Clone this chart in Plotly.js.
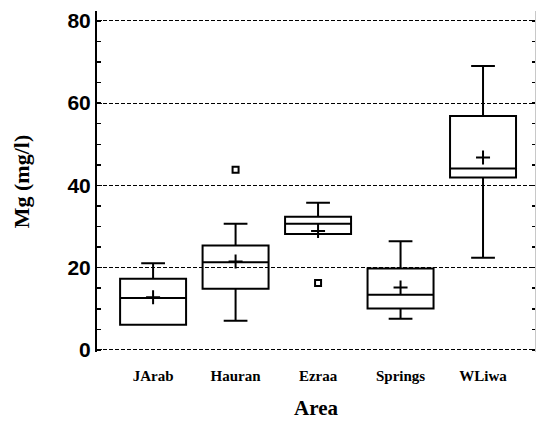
<!DOCTYPE html>
<html>
<head>
<meta charset="utf-8">
<script src="https://cdn.plot.ly/plotly-3.0.1.min.js"></script>
<style>html,body{margin:0;padding:0;background:#fff;}#chart{width:536px;height:426px;}</style>
</head>
<body>
<div id="chart"></div>
<script>
// Data
const areas = ["JArab", "Hauran", "Ezraa", "Springs", "WLiwa"];
const lowerWhisker = [6.1, 7.1, 28.2, 7.6, 22.4];
const q1 = [6.1, 14.9, 28.2, 10.1, 41.9];
const median = [12.6, 21.3, 30.7, 13.4, 44.1];
const q3 = [17.3, 25.4, 32.4, 19.8, 56.9];
const upperWhisker = [21.1, 30.7, 35.8, 26.4, 69.0];
const means = [12.8, 21.5, 28.9, 15.2, 46.8];
const outlierAreas = ["Hauran", "Ezraa"];
const outlierValues = [43.8, 16.3];
const yTicks = [0, 20, 40, 60, 80];

const serif = "Liberation Serif, Times New Roman, serif";
const sans = "Liberation Sans, Arial, sans-serif";

const traces = [
  {
    type: "box",
    x: areas,
    q1: q1,
    median: median,
    q3: q3,
    lowerfence: lowerWhisker,
    upperfence: upperWhisker,
    boxpoints: false,
    width: 0.8,
    whiskerwidth: 0.36,
    fillcolor: "rgba(255,255,255,0)",
    line: {color: "#000", width: 2},
    hoverinfo: "skip",
    showlegend: false
  },
  {
    type: "scatter",
    mode: "markers",
    x: areas,
    y: means,
    marker: {symbol: "cross-thin-open", size: 10, color: "#000", line: {color: "#000", width: 2}},
    showlegend: false,
    hoverinfo: "skip"
  },
  {
    type: "scatter",
    mode: "markers",
    x: outlierAreas,
    y: outlierValues,
    marker: {symbol: "square-open", size: 6, color: "#000", line: {color: "#000", width: 2}},
    showlegend: false,
    hoverinfo: "skip"
  },
  {
    // carrier for the right-hand tick axis (draws nothing)
    type: "scatter",
    mode: "markers",
    x: [areas[0]],
    y: [null],
    yaxis: "y2",
    showlegend: false,
    hoverinfo: "skip"
  }
];

const layout = {
  width: 536,
  height: 426,
  margin: {l: 97, r: 1, t: 11, b: 74},
  paper_bgcolor: "#fff",
  plot_bgcolor: "#fff",
  showlegend: false,
  xaxis: {
    type: "category",
    categoryorder: "array",
    categoryarray: areas,
    range: [-0.68, 4.63],
    showgrid: false,
    zeroline: false,
    showline: false,
    ticks: "",
    ticklabelstandoff: 13,
    tickfont: {family: serif, size: 15, color: "#000", weight: "bold"},
    title: {text: "Area", font: {family: serif, size: 21, color: "#000", weight: "bold"}, standoff: 17}
  },
  yaxis: {
    range: [-0.5, 82.4],
    tickvals: yTicks,
    ticktext: yTicks.map(String),
    showgrid: true,
    gridcolor: "#000",
    gridwidth: 1,
    griddash: "4px,2px",
    zeroline: false,
    showline: true,
    linecolor: "#000",
    linewidth: 2,
    ticks: "inside",
    ticklen: 5,
    tickwidth: 1,
    tickcolor: "#000",
    minor: {dtick: 5, ticks: "inside", ticklen: 4, tickwidth: 1.5, tickcolor: "#000", showgrid: false},
    tickfont: {family: sans, size: 21, color: "#000", weight: "bold"},
    title: {text: "Mg (mg/l)", font: {family: serif, size: 22, color: "#000", weight: "bold"}, standoff: 32}
  },
  yaxis2: {
    overlaying: "y",
    side: "right",
    range: [-0.5, 82.4],
    tickvals: yTicks,
    showticklabels: false,
    showgrid: false,
    zeroline: false,
    showline: true,
    linecolor: "#c8c8c8",
    linewidth: 1,
    ticks: "inside",
    ticklen: 3,
    tickcolor: "#000",
    minor: {dtick: 5, ticks: "inside", ticklen: 3, tickwidth: 1.5, tickcolor: "#000", showgrid: false}
  }
};

Plotly.newPlot("chart", traces, layout, {staticPlot: true, displayModeBar: false});
</script>
</body>
</html>
